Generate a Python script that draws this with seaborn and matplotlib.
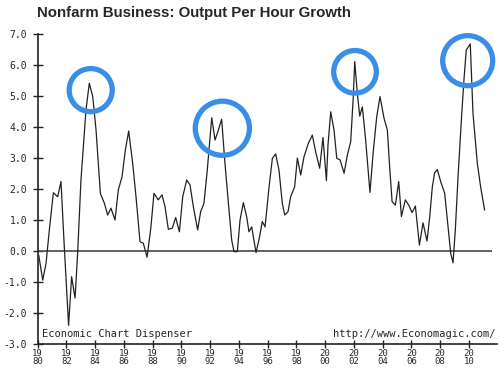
import matplotlib
matplotlib.use("Agg")
import matplotlib.pyplot as plt
import numpy as np
import pandas as pd
import seaborn as sns

# --- Data ---
years = [1980.07, 1980.35, 1980.58, 1980.81, 1981.09, 1981.39, 1981.62, 1981.85,
         1982.15, 1982.36, 1982.60, 1982.78, 1983.01, 1983.36, 1983.59, 1983.83,
         1984.06, 1984.36, 1984.64, 1984.87, 1985.10, 1985.38, 1985.61, 1985.87,
         1986.10, 1986.33, 1986.61, 1986.84, 1987.12, 1987.35, 1987.61, 1987.88,
         1988.09, 1988.39, 1988.65, 1988.86, 1989.09, 1989.37, 1989.60, 1989.86,
         1990.09, 1990.37, 1990.60, 1990.83, 1991.13, 1991.34, 1991.57, 1991.80,
         1992.11, 1992.34, 1992.57, 1992.80, 1993.03, 1993.27, 1993.50, 1993.66,
         1993.89, 1994.08, 1994.31, 1994.54, 1994.70, 1994.89, 1995.08, 1995.19,
         1995.42, 1995.63, 1995.82, 1996.10, 1996.33, 1996.56, 1996.79, 1997.02,
         1997.19, 1997.42, 1997.60, 1997.88, 1998.07, 1998.30, 1998.53, 1998.83,
         1999.11, 1999.34, 1999.62, 1999.85, 2000.09, 2000.20, 2000.39, 2000.62,
         2000.81, 2001.04, 2001.32, 2001.55, 2001.78, 2001.96, 2002.06, 2002.24,
         2002.41, 2002.59, 2002.82, 2003.12, 2003.36, 2003.59, 2003.82, 2004.10,
         2004.33, 2004.49, 2004.66, 2004.89, 2005.12, 2005.31, 2005.58, 2005.82,
         2006.05, 2006.28, 2006.56, 2006.81, 2007.09, 2007.28, 2007.46, 2007.62,
         2007.81, 2008.04, 2008.32, 2008.55, 2008.74, 2008.90, 2009.06, 2009.25,
         2009.48, 2009.66, 2009.82, 2010.10, 2010.29, 2010.59, 2010.82, 2011.10]
growth = [-0.13, -0.94, -0.40, 0.68, 1.88, 1.75, 2.24, 0.14,
          -2.40, -0.83, -1.52, -0.06, 2.29, 4.55, 5.41, 4.98,
          3.90, 1.86, 1.54, 1.16, 1.38, 1.00, 1.97, 2.40,
          3.26, 3.87, 2.83, 1.75, 0.30, 0.25, -0.20, 0.78,
          1.86, 1.65, 1.81, 1.43, 0.70, 0.74, 1.08, 0.62,
          1.75, 2.29, 2.13, 1.43, 0.68, 1.27, 1.54, 2.61,
          4.30, 3.58, 3.90, 4.25, 2.83, 1.54, 0.35, -0.02,
          -0.02, 1.00, 1.56, 1.11, 0.62, 0.78, 0.25, -0.05,
          0.41, 0.95, 0.78, 2.07, 2.99, 3.13, 2.61, 1.54,
          1.16, 1.27, 1.75, 2.07, 3.00, 2.45, 3.04, 3.47,
          3.74, 3.20, 2.67, 3.66, 2.27, 3.42, 4.49, 3.90,
          2.99, 2.94, 2.51, 3.10, 3.53, 4.98, 6.11, 5.09,
          4.35, 4.65, 3.58, 1.89, 3.26, 4.33, 4.98, 4.28,
          3.90, 2.72, 1.59, 1.48, 2.24, 1.11, 1.65, 1.48,
          1.24, 1.45, 0.19, 0.91, 0.32, 1.11, 2.07, 2.52,
          2.63, 2.24, 1.86, 0.78, -0.08, -0.38, 0.68, 2.40,
          4.22, 5.52, 6.48, 6.68, 4.44, 2.83, 2.07, 1.32]

# highlighted peaks (blue rings)
ring_years = [1983.69, 1992.85, 2002.08, 2009.92]
ring_values = [5.19, 3.96, 5.78, 6.14]
ring_diam_pt = [31, 39, 30.7, 36]

y_ticks = [-3, -2, -1, 0, 1, 2, 3, 4, 5, 6, 7]
x_ticks = list(range(1980, 2011, 2))
x_labels = [f"{str(y)[:2]}\n{str(y)[2:]}" for y in x_ticks]

df = pd.DataFrame({"year": years, "growth": growth})

# --- Plot ---
sns.set_theme(style="white")
fig = plt.figure(figsize=(5, 3.68), dpi=100)
ax = fig.add_axes([0.0754, 0.0652, 0.9186, 0.8424])

sns.lineplot(data=df, x="year", y="growth", color="#222222", linewidth=0.9,
             ax=ax, zorder=3)
ax.hlines(0, 1980, 2011.6, color="#555555", linewidth=1.3, zorder=2)

ax.scatter(ring_years, ring_values, s=np.array(ring_diam_pt) ** 2,
           facecolors="none", edgecolors="#3a8ee6", linewidths=3.8, zorder=5,
           clip_on=False)

ax.set_xlim(1980, 2011.96)
ax.set_ylim(-3, 7)
ax.set_xlabel("")
ax.set_ylabel("")

ax.set_yticks(y_ticks)
ax.set_yticklabels([f"{v:.1f}" for v in y_ticks], family="DejaVu Sans Mono",
                   fontsize=7)
ax.set_xticks(x_ticks)
ax.set_xticklabels(x_labels, family="DejaVu Sans Mono", fontsize=6.5,
                   linespacing=0.8)
ax.tick_params(axis="y", direction="inout", length=7, width=1.0,
               color="#222222", pad=4, left=True)
ax.tick_params(axis="x", direction="inout", length=6, width=1.0,
               color="#222222", pad=0.8, bottom=True)

for side in ["top", "right"]:
    ax.spines[side].set_visible(False)
for side in ["left", "bottom"]:
    ax.spines[side].set_color("#222222")
    ax.spines[side].set_linewidth(1.2)

ax.text(0.01, 0.032, "Economic Chart Dispenser", transform=ax.transAxes,
        family="DejaVu Sans Mono", fontsize=7.5, va="center", ha="left")
ax.text(0.997, 0.032, "http://www.Economagic.com/", transform=ax.transAxes,
        family="DejaVu Sans Mono", fontsize=7.5, va="center", ha="right")

fig.text(0.074, 1 - 12.5 / 368, "Nonfarm Business: Output Per Hour Growth",
         family="Liberation Sans", fontweight="bold",
         fontsize=10.8, va="center", ha="left")

fig.savefig("out.png", dpi=100)
